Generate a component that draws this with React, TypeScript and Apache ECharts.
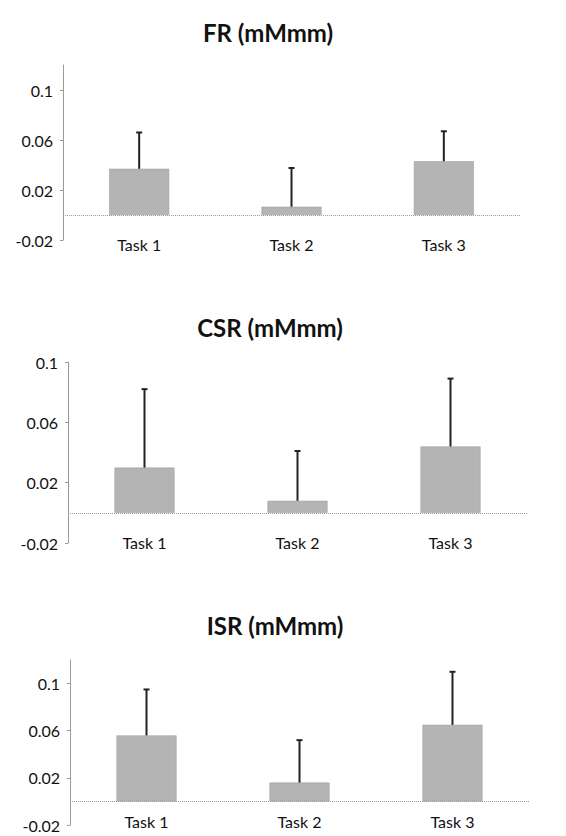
import React, { useEffect, useRef } from "react";
import * as echarts from "echarts";

const categories = ["Task 1", "Task 2", "Task 3"];
const titles = ["FR (mMmm)", "CSR (mMmm)", "ISR (mMmm)"];

const frMeans = [0.037, 0.0066, 0.043];
const frSD = [0.029, 0.031, 0.024];
const csrMeans = [0.03, 0.008, 0.044];
const csrSD = [0.052, 0.033, 0.045];
const isrMeans = [0.056, 0.016, 0.065];
const isrSD = [0.039, 0.036, 0.045];

const yMins = [-0.02, -0.02, -0.02];
const yMaxs = [0.12, 0.1, 0.12];
const yInterval = 0.04;

const panels = [
  { means: frMeans, sd: frSD },
  { means: csrMeans, sd: csrSD },
  { means: isrMeans, sd: isrSD },
];

const grids = [
  { left: 63, top: 65, width: 457, height: 175 },
  { left: 68, top: 362, width: 459, height: 181 },
  { left: 70, top: 660, width: 459, height: 165 },
];
const titlePos = [
  { left: 263, top: 15 },
  { left: 265, top: 310 },
  { left: 270, top: 608 },
];
const xLabelMargin = [-4, -9, -12];

const FONT = "Lato";

export default function App() {
  const ref = useRef<HTMLDivElement>(null);
  useEffect(() => {
    if (!ref.current) return;
    const chart = echarts.init(ref.current, null, { renderer: "svg" });
    const option: any = {
      animation: false,
      backgroundColor: "#ffffff",
      title: titles.map((t, i) => ({
        text: t,
        left: titlePos[i].left,
        top: titlePos[i].top,
        textAlign: "center",
        textStyle: { fontFamily: FONT, fontWeight: "bold", fontSize: 24, color: "#111" },
      })),
      grid: grids.map((g) => ({ ...g, containLabel: false })),
      xAxis: grids.map((_, i) => ({
        type: "category",
        gridIndex: i,
        data: categories,
        axisLine: { show: false },
        axisTick: { show: false },
        axisLabel: {
          fontFamily: FONT,
          fontSize: 16,
          color: "#111",
          margin: xLabelMargin[i],
        },
      })),
      yAxis: grids.map((_, i) => ({
        type: "value",
        gridIndex: i,
        min: yMins[i],
        max: yMaxs[i],
        interval: yInterval,
        splitLine: { show: false },
        axisLine: { show: true, lineStyle: { color: "#9a9a9a", width: 1 } },
        axisTick: { show: true, length: 3, lineStyle: { color: "#9a9a9a" } },
        axisLabel: {
          fontFamily: FONT,
          fontSize: 16,
          color: "#111",
          margin: 10,
          showMaxLabel: yMaxs[i] === 0.1,
          formatter: (v: number) => String(Number(v.toFixed(2))),
        },
      })),
      series: panels.flatMap((p, i) => [
        {
          type: "bar",
          xAxisIndex: i,
          yAxisIndex: i,
          data: p.means,
          barWidth: 60,
          itemStyle: { color: "#b4b4b4", borderColor: "#999", borderWidth: 0.5 },
          markLine: {
            silent: true,
            symbol: "none",
            label: { show: false },
            lineStyle: { color: "#9a9a9a", type: "dotted", width: 1 },
            data: [{ yAxis: 0 }],
          },
        },
        {
          type: "custom",
          xAxisIndex: i,
          yAxisIndex: i,
          z: 5,
          data: p.means.map((m, k) => [k, m, m + p.sd[k]]),
          renderItem: (params: any, api: any) => {
            const x = api.value(0);
            const base = api.coord([x, api.value(1)]);
            const top = api.coord([x, api.value(2)]);
            const style = { stroke: "#222", lineWidth: 2 };
            return {
              type: "group",
              children: [
                { type: "line", shape: { x1: base[0], y1: base[1], x2: top[0], y2: top[1] }, style },
                { type: "line", shape: { x1: top[0] - 3, y1: top[1], x2: top[0] + 3, y2: top[1] }, style },
              ],
            };
          },
        },
      ]),
    };
    chart.setOption(option);
    return () => chart.dispose();
  }, []);
  return (
    <div
      ref={ref}
      style={{ position: "absolute", left: 0, top: 0, width: 566, height: 836 }}
    />
  );
}
